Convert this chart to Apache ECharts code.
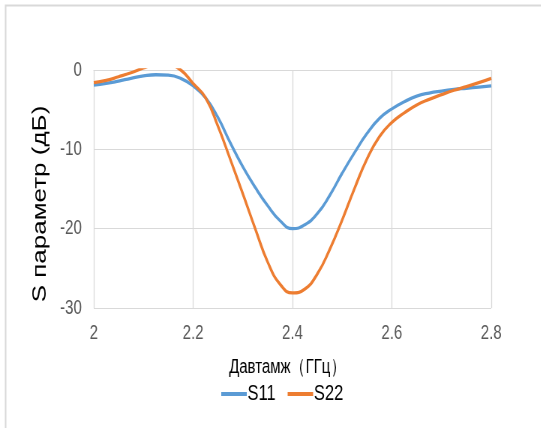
<!DOCTYPE html>
<html>
<head>
<meta charset="utf-8">
<script src="https://cdn.jsdelivr.net/npm/echarts@6/dist/echarts.min.js"></script>
<style>
html,body{margin:0;padding:0;background:#fff;overflow:hidden;width:541px;height:428px;}
#chart{width:721px;height:428px;transform:scaleX(0.75);transform-origin:0 0;}
</style>
</head>
<body>
<div id="chart"></div>
<script>
var freqs = [2.000,2.025,2.050,2.075,2.100,2.125,2.150,2.175,2.200,2.225,2.250,2.275,2.300,2.325,2.350,2.375,2.400,2.425,2.450,2.475,2.500,2.525,2.550,2.575,2.600,2.625,2.650,2.675,2.700,2.725,2.750,2.775,2.800];
var s11 = [-1.9,-1.7,-1.4,-1.05,-0.75,-0.6,-0.65,-1.05,-2.0,-3.5,-6.0,-9.2,-12.2,-14.8,-17.1,-19.0,-20.0,-19.5,-18.1,-15.8,-13.0,-10.4,-8.0,-6.1,-4.9,-4.0,-3.3,-2.9,-2.65,-2.45,-2.3,-2.15,-2.0];
var s22 = [-1.6,-1.3,-0.85,-0.35,0.25,0.7,0.65,0.0,-1.7,-3.5,-7.1,-11.3,-15.6,-20.0,-24.2,-27.0,-28.1,-27.6,-25.7,-22.6,-18.9,-14.9,-11.2,-8.4,-6.6,-5.4,-4.4,-3.7,-3.1,-2.55,-2.1,-1.6,-1.05];
var xTickLabels = ['2','2.2','2.4','2.6','2.8'];
var yTickLabels = ['-30','-20','-10','0'];
var seriesNames = ['S11','S22'];
var xTitle = 'Давтамж（ГГц）';
var yTitle = 'S параметр (дБ)';

var font = '"Liberation Sans",Arial,sans-serif';
function pair(xs, ys){ return xs.map(function(x,i){ return [x, ys[i]]; }); }

var chart = echarts.init(document.getElementById('chart'), null, {renderer:'canvas'});
chart.setOption({
  animation:false,
  backgroundColor:'#fff',
  graphic:[
    {type:'rect', shape:{x:7.5,y:5.5,width:900,height:600}, style:{fill:'none',stroke:'#d9d9d9',lineWidth:2}, silent:true},
    {type:'text', x:54, y:204, rotation:Math.PI/2,
     style:{text:yTitle, fill:'#000', font:'26px "Liberation Sans",Arial,sans-serif', textAlign:'center', textVerticalAlign:'middle'}}
  ],
  grid:{left:125,right:66,top:70,bottom:120,containLabel:false},
  legend:{
    data:seriesNames, left:290, top:378, itemWidth:34, itemHeight:4, itemGap:16, icon:'rect',
    textStyle:{fontSize:22, color:'#000', fontFamily:font, padding:[0,0,0,-4]}
  },
  xAxis:{
    type:'value', min:2, max:2.8, interval:0.2,
    name:xTitle, nameLocation:'middle', nameGap:49,
    nameTextStyle:{fontSize:20,color:'#000',fontFamily:font, padding:[0,14,0,0]},
    axisLine:{show:true,lineStyle:{color:'#d9d9d9',width:1}},
    axisTick:{show:false},
    splitLine:{show:true,lineStyle:{color:'#d9d9d9',width:1.3}},
    axisLabel:{fontSize:20,color:'#595959',fontFamily:font,margin:15,
      formatter:function(v){ var i=Math.round((v-2)/0.2); return xTickLabels[i]; }}
  },
  yAxis:{
    type:'value', min:-30, max:0, interval:10,
    axisLine:{show:false},
    axisTick:{show:false},
    splitLine:{show:true,lineStyle:{color:'#d9d9d9',width:1}},
    axisLabel:{fontSize:20,color:'#595959',fontFamily:font,margin:16,
      formatter:function(v){ var i=Math.round((v+30)/10); return yTickLabels[i]; }}
  },
  series:[
    {name:seriesNames[0], type:'line', data:pair(freqs,s11), smooth:0.5, showSymbol:false, clip:true,
     lineStyle:{color:'#5B9BD5',width:3.3}, itemStyle:{color:'#5B9BD5'}},
    {name:seriesNames[1], type:'line', data:pair(freqs,s22), smooth:0.5, showSymbol:false, clip:true,
     lineStyle:{color:'#ED7D31',width:3.3}, itemStyle:{color:'#ED7D31'}}
  ]
});
</script>
</body>
</html>
